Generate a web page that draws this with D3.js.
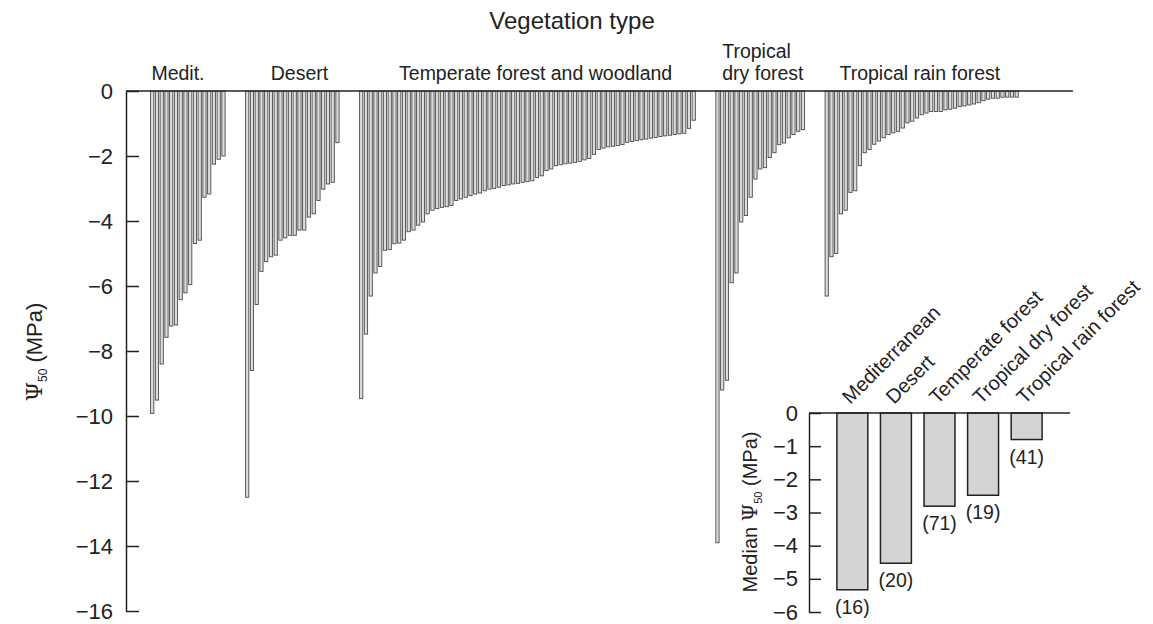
<!DOCTYPE html>
<html>
<head>
<meta charset="utf-8">
<script src="https://cdn.jsdelivr.net/npm/d3@7"></script>
<style>
  body { margin: 0; background: #fff; }
  text { font-family: "Liberation Sans", Arial, sans-serif; fill: #222; }
  .axis path, .axis line { stroke: #222; stroke-width: 1.5; }
  .axis text { font-size: 22px; fill: #222; }
</style>
</head>
<body>
<div class="chart"></div>
<script>
// P50 values (MPa) per vegetation type
var groupNames = ["Medit.", "Desert", "Temperate forest and woodland", "Tropical|dry forest", "Tropical rain forest"];
var meditValues = [-9.92, -9.51, -8.4, -7.58, -7.23, -7.2, -6.42, -6.21, -5.96, -4.69, -4.59, -3.27, -3.17, -2.25, -2.1, -2.0];
var desertValues = [-12.5, -8.6, -6.57, -5.55, -5.25, -5.1, -5.05, -4.59, -4.52, -4.44, -4.44, -4.28, -4.28, -3.88, -3.78, -3.37, -3.02, -2.86, -2.81, -1.59];
var temperateValues = [-9.46, -7.48, -6.31, -5.6, -5.4, -4.9, -4.88, -4.7, -4.68, -4.59,
  -4.33, -4.28, -4.13, -4.03, -3.78, -3.67, -3.62, -3.58, -3.56, -3.52,
  -3.37, -3.32, -3.27, -3.22, -3.17, -3.14, -3.07, -3.02, -3.0, -2.96,
  -2.91, -2.89, -2.86, -2.84, -2.81, -2.79, -2.76, -2.66, -2.61, -2.45,
  -2.4, -2.3, -2.27, -2.24, -2.22, -2.2, -2.17, -2.12, -2.08, -1.95,
  -1.8, -1.76, -1.72, -1.7, -1.68, -1.65, -1.58, -1.55, -1.53, -1.5,
  -1.48, -1.45, -1.43, -1.4, -1.38, -1.36, -1.34, -1.32, -1.3, -1.15, -0.9];
var tropDryValues = [-13.9, -9.2, -8.9, -5.9, -5.6, -4.03, -3.83, -3.27, -2.71, -2.4, -2.36, -2.05, -1.9, -1.65, -1.6, -1.44, -1.34, -1.24, -1.19];
var tropRainValues = [-6.31, -5.1, -5.0, -3.78, -3.67, -3.12, -3.07, -2.3, -1.9, -1.8,
  -1.64, -1.54, -1.44, -1.34, -1.29, -1.24, -1.14, -0.98, -0.93, -0.83,
  -0.73, -0.68, -0.63, -0.63, -0.63, -0.58, -0.56, -0.53, -0.48, -0.46,
  -0.43, -0.4, -0.36, -0.3, -0.25, -0.22, -0.22, -0.19, -0.19, -0.19, -0.19];
var mainTicks = [0, -2, -4, -6, -8, -10, -12, -14, -16];

// inset: medians
var medianCats = ["Mediterranean", "Desert", "Temperate forest", "Tropical dry forest", "Tropical rain forest"];
var medianValues = [-5.33, -4.53, -2.81, -2.48, -0.8];
var sampleCounts = [16, 20, 71, 19, 41];
var insetTicks = [0, -1, -2, -3, -4, -5, -6];

var svgWidth = 1153;
var svgHeight = 624;

var svg = d3.select(".chart")
  .append("svg")
  .attr("width", svgWidth)
  .attr("height", svgHeight);

// flatten bars, with 4 empty slots between groups
var allGroups = [meditValues, desertValues, temperateValues, tropDryValues, tropRainValues];
var bars = [];
var slots = [];
allGroups.forEach(function (vals, g) {
  vals.forEach(function (v, i) {
    var key = g + "-" + i;
    bars.push({ key: key, group: g, value: v });
    slots.push(key);
  });
  if (g < allGroups.length - 1) {
    for (var k = 0; k < 4; k++) slots.push("gap" + g + "-" + k);
  }
});

var xScale = d3.scaleBand()
  .domain(slots)
  .range([150, 150 + slots.length * 4.75]);

var yScale = d3.scaleLinear()
  .domain([0, -16])
  .range([91, 611]);

// bars
svg.append("g")
  .selectAll("rect")
  .data(bars)
  .enter()
  .append("rect")
  .attr("x", d => xScale(d.key) + 0.6)
  .attr("y", yScale(0))
  .attr("width", xScale.bandwidth() * 0.68)
  .attr("height", d => yScale(d.value) - yScale(0))
  .attr("fill", "#dcdcdc")
  .attr("stroke", "#4a4a4a")
  .attr("stroke-width", 0.9);

// y axis
svg.append("g")
  .attr("class", "axis")
  .attr("transform", "translate(126,0)")
  .call(d3.axisLeft(yScale).tickValues(mainTicks).tickSize(-13).tickSizeOuter(0).tickPadding(13));

// zero line
svg.append("line")
  .attr("x1", 126).attr("x2", 1073)
  .attr("y1", yScale(0)).attr("y2", yScale(0))
  .attr("stroke", "#222").attr("stroke-width", 1.5);

// title
svg.append("text")
  .attr("x", 572).attr("y", 29)
  .attr("text-anchor", "middle")
  .style("font-size", "24px")
  .text("Vegetation type");

// group labels
var labelShift = [-10, 7, 8, 0, -2];
allGroups.forEach(function (vals, g) {
  var x0 = xScale(g + "-0");
  var x1 = xScale(g + "-" + (vals.length - 1)) + xScale.step();
  var parts = groupNames[g].split("|");
  if (parts.length > 1) {
    parts.forEach(function (p, i) {
      svg.append("text")
        .attr("x", x0 + 7)
        .attr("y", 80 - (parts.length - 1 - i) * 22)
        .style("font-size", "19.5px")
        .text(p);
    });
  } else {
    svg.append("text")
      .attr("x", (x0 + x1) / 2 + labelShift[g])
      .attr("y", 80)
      .attr("text-anchor", "middle")
      .style("font-size", "19.5px")
      .text(parts[0]);
  }
});

// main y label
var yLab = svg.append("text")
  .attr("transform", "translate(42,352) rotate(-90)")
  .attr("text-anchor", "middle")
  .style("font-size", "22px");
yLab.append("tspan").style("font-family", "DejaVu Serif").text("Ψ");
yLab.append("tspan").attr("dy", 5).style("font-size", "12px").text("50");
yLab.append("tspan").attr("dy", -5).text(" (MPa)");

// ---- inset ----
var insetX = d3.scaleBand()
  .domain(medianCats)
  .range([809, 1070])
  .paddingInner(0.29)
  .paddingOuter(0.64);

var insetY = d3.scaleLinear()
  .domain([0, -6])
  .range([413, 612]);

svg.append("g")
  .selectAll("rect")
  .data(medianValues)
  .enter()
  .append("rect")
  .attr("x", (d, i) => insetX(medianCats[i]))
  .attr("y", insetY(0))
  .attr("width", insetX.bandwidth())
  .attr("height", d => insetY(d) - insetY(0))
  .attr("fill", "#d4d4d4")
  .attr("stroke", "#222")
  .attr("stroke-width", 1.5);

svg.append("g")
  .attr("class", "axis")
  .attr("transform", "translate(809,0)")
  .call(d3.axisLeft(insetY).tickValues(insetTicks).tickFormat(d3.format("d"))
    .tickSize(-12).tickSizeOuter(0).tickPadding(11));

svg.append("line")
  .attr("x1", 809).attr("x2", 1070)
  .attr("y1", insetY(0)).attr("y2", insetY(0))
  .attr("stroke", "#222").attr("stroke-width", 1.5);

// rotated category labels
svg.append("g")
  .selectAll("text")
  .data(medianCats)
  .enter()
  .append("text")
  .attr("transform", d => `translate(${insetX(d) + insetX.bandwidth() / 2 - 2},${insetY(0) - 8}) rotate(-45)`)
  .style("font-size", "20px")
  .text(d => d);

// sample sizes
svg.append("g")
  .selectAll("text")
  .data(sampleCounts)
  .enter()
  .append("text")
  .attr("x", (d, i) => insetX(medianCats[i]) + insetX.bandwidth() / 2)
  .attr("y", (d, i) => insetY(medianValues[i]) + 24)
  .attr("text-anchor", "middle")
  .style("font-size", "19.5px")
  .text(d => "(" + d + ")");

// inset y label
var iLab = svg.append("text")
  .attr("transform", "translate(757,512) rotate(-90)")
  .attr("text-anchor", "middle")
  .style("font-size", "20px");
iLab.append("tspan").text("Median ");
iLab.append("tspan").style("font-family", "DejaVu Serif").text("Ψ");
iLab.append("tspan").attr("dy", 5).style("font-size", "11px").text("50");
iLab.append("tspan").attr("dy", -5).text(" (MPa)");
</script>
</body>
</html>
